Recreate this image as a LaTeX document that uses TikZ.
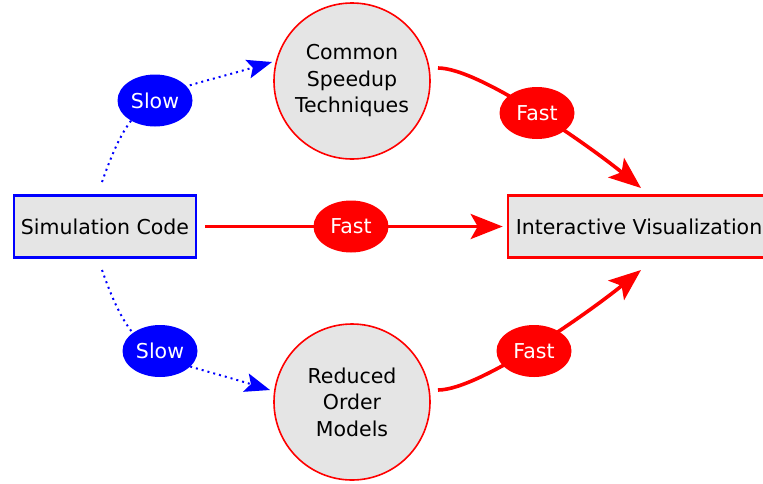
\documentclass[tikz,border=0pt]{standalone}
\usepackage{fontspec}
\setmainfont{DejaVu Sans}
\usetikzlibrary{arrows.meta,shapes.geometric}
\definecolor{boxgray}{RGB}{229,229,229}
\tikzset{
  stage/.style={circle,draw=red,line width=1.6pt,fill=boxgray,minimum size=156pt,
    inner sep=0pt,align=center,font=\fontsize{20.5}{26.5}\selectfont},
  endbox/.style={rectangle,line width=2.6pt,fill=boxgray,minimum height=62pt,
    inner sep=0pt,font=\fontsize{20.5}{24}\selectfont},
  tag/.style={ellipse,text=white,minimum width=75pt,minimum height=52pt,
    inner sep=0pt,font=\fontsize{20.5}{24}\selectfont},
  fastlink/.style={red,line width=3.6pt,-{Stealth[length=32pt,width=25pt,inset=7pt]}},
  slowlink/.style={blue,line width=2pt,dash pattern=on 2pt off 4pt,
    -{Stealth[length=25pt,width=19pt,inset=5pt]}}
}
\begin{document}
\begin{tikzpicture}[x=1pt,y=-1pt]
  \clip (0,0) rectangle (763,483);
  \fill[white] (0,0) rectangle (763,483);

  % source, target and the two routes between them
  \node[endbox,draw=blue,minimum width=182pt] (sim) at (105,226.5) {Simulation Code};
  \node[endbox,draw=red,minimum width=262pt] (viz) at (639,226.5) {Interactive Visualization};
  \node[stage] (speed) at (352,81) {Common\\Speedup\\Techniques};
  \node[stage] (rom) at (352,402) {Reduced\\Order\\Models};

  % end points of the curved links
  \coordinate (simtop) at (102,182);
  \coordinate (simbot) at (102,270);
  \coordinate (speedin) at (272,62);
  \coordinate (romin) at (270,390);
  \coordinate (speedout) at (438,68);
  \coordinate (romout) at (438,390);
  \coordinate (viztop) at (641,188);
  \coordinate (vizbot) at (641,270);

  % slow links
  \draw[slowlink] (simtop) .. controls (134.6,88.8) and (154,96.6) .. (speedin);
  \draw[slowlink] (simbot) .. controls (134.6,363) and (156,355) .. (romin);

  % fast links
  \draw[fastlink] (speedout) .. controls (480,68) and (592,148) .. (viztop);
  \draw[fastlink] (romout) .. controls (480,390) and (592,310) .. (vizbot);
  \draw[fastlink] (sim.east) ++(8,0) coordinate (simright) -- ([xshift=-4pt]viz.west);

  % speed labels on the links
  \node[tag,fill=blue] (slowtop) at (155,100.5) {Slow};
  \node[tag,fill=blue] (slowbot) at (160,351) {Slow};
  \node[tag,fill=red] (fasttop) at (537,113) {Fast};
  \node[tag,fill=red] (fastmid) at (351,226.5) {Fast};
  \node[tag,fill=red] (fastbot) at (534,351) {Fast};
\end{tikzpicture}
\end{document}
